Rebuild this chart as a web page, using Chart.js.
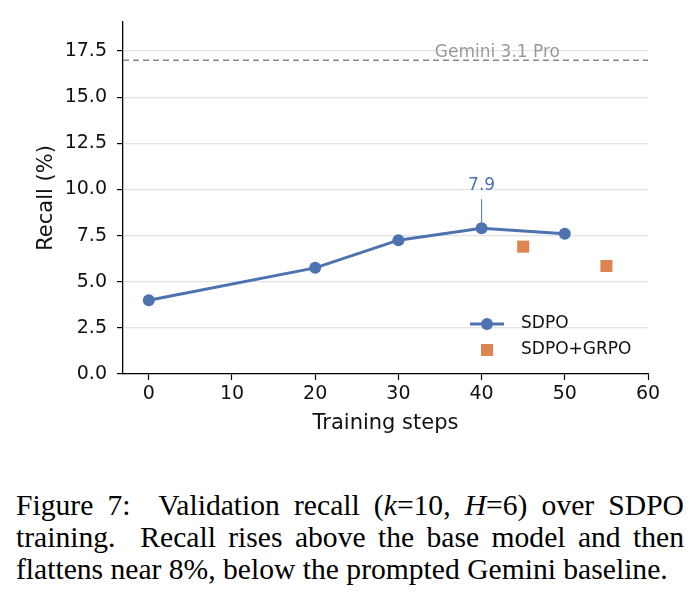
<!DOCTYPE html>
<html>
<head>
<meta charset="utf-8">
<script src="https://cdn.jsdelivr.net/npm/chart.js@4.4.1/dist/chart.umd.min.js"></script>
<style>
  html, body { margin: 0; padding: 0; background: #fff; }
  #wrap { position: relative; width: 698px; height: 450px; }
  #caption {
    font-family: "Liberation Serif", "DejaVu Serif", serif;
    font-size: 29.6px;
    line-height: 32px;
    text-align: justify;
    margin: 39px 14px 0 16px;
    color: #000;
  }
</style>
</head>
<body>
<div id="wrap"><canvas id="recallChart"></canvas></div>
<div id="caption">Figure 7:&nbsp; Validation recall (<i>k</i>=10, <i>H</i>=6) over SDPO training.&nbsp; Recall rises above the base model and then flattens near 8%, below the prompted Gemini baseline.</div>
<script>
// 数据
const sdpoSteps = [0, 20, 30, 40, 50];
const sdpoRecall = [4.0, 5.75, 7.25, 7.9, 7.6];
const grpoSteps = [45, 55];
const grpoRecall = [6.9, 5.85];
const geminiRecall = 17.0;
const geminiLabel = 'Gemini 3.1 Pro';
const peakLabel = '7.9';
const xTicks = [0, 10, 20, 30, 40, 50, 60];
const yTicks = [0, 2.5, 5, 7.5, 10, 12.5, 15, 17.5];

const BLUE = '#4c72b0';
const ORANGE = '#dd8452';
const FONT = "'DejaVu Sans', sans-serif";

// 图内图例 + 标注
const overlayPlugin = {
    id: 'overlay',
    afterDatasetsDraw(chart) {
        const { ctx, scales: { x, y } } = chart;
        ctx.save();

        // Gemini 标签
        ctx.font = `17px ${FONT}`;
        ctx.fillStyle = '#999999';
        ctx.textAlign = 'center';
        ctx.textBaseline = 'alphabetic';
        ctx.fillText(geminiLabel, x.getPixelForValue(41.9), y.getPixelForValue(geminiRecall) - 3);

        // 峰值标注
        const px = x.getPixelForValue(sdpoSteps[3]);
        const py = y.getPixelForValue(sdpoRecall[3]);
        ctx.strokeStyle = BLUE;
        ctx.lineWidth = 1;
        ctx.beginPath();
        ctx.moveTo(px, py - 4);
        ctx.lineTo(px, py - 29);
        ctx.stroke();
        ctx.font = `17px ${FONT}`;
        ctx.fillStyle = BLUE;
        ctx.fillText(peakLabel, px, py - 38);

        // 图例
        const ds = chart.data.datasets;
        const lx = chart.chartArea.right - 178;
        const ly1 = chart.chartArea.bottom - 50;
        const ly2 = chart.chartArea.bottom - 24;
        ctx.strokeStyle = BLUE;
        ctx.lineWidth = 3;
        ctx.beginPath();
        ctx.moveTo(lx, ly1);
        ctx.lineTo(lx + 34, ly1);
        ctx.stroke();
        ctx.fillStyle = BLUE;
        ctx.beginPath();
        ctx.arc(lx + 17, ly1, 6, 0, Math.PI * 2);
        ctx.fill();
        ctx.fillStyle = ORANGE;
        ctx.fillRect(lx + 11, ly2 - 6, 12, 12);
        ctx.font = `17px ${FONT}`;
        ctx.fillStyle = '#111';
        ctx.textAlign = 'left';
        ctx.textBaseline = 'middle';
        ctx.fillText(ds[1].label, lx + 51, ly1);
        ctx.fillText(ds[2].label, lx + 51, ly2);
        ctx.restore();
    }
};

const ctx = document.getElementById('recallChart').getContext('2d');
new Chart(ctx, {
    type: 'scatter',
    data: {
        datasets: [
            {
                label: geminiLabel,
                data: [{ x: -3.1, y: geminiRecall }, { x: 60, y: geminiRecall }],
                showLine: true,
                borderColor: '#888888',
                borderWidth: 1.5,
                borderDash: [6, 4],
                pointRadius: 0
            },
            {
                label: 'SDPO',
                data: sdpoSteps.map((s, i) => ({ x: s, y: sdpoRecall[i] })),
                showLine: true,
                borderColor: BLUE,
                backgroundColor: BLUE,
                borderWidth: 3,
                pointRadius: 6,
                pointBorderWidth: 0
            },
            {
                label: 'SDPO+GRPO',
                data: grpoSteps.map((s, i) => ({ x: s, y: grpoRecall[i] })),
                backgroundColor: ORANGE,
                borderColor: ORANGE,
                pointStyle: 'rect',
                pointRadius: 8.5,
                pointBorderWidth: 0
            }
        ]
    },
    options: {
        responsive: true,
        maintainAspectRatio: false,
        animation: false,
        layout: { padding: { left: 0, right: 50, top: 22, bottom: 0 } },
        plugins: {
            legend: { display: false },
            tooltip: { enabled: false }
        },
        scales: {
            x: {
                type: 'linear',
                min: -3.1,
                max: 60,
                afterFit: (s) => { s.height = 76; },
                afterBuildTicks: (s) => { s.ticks = xTicks.map(v => ({ value: v })); },
                grid: { drawOnChartArea: false, drawTicks: true, tickLength: 6, tickColor: '#000', tickWidth: 1.2 },
                border: { color: '#000', width: 1.3 },
                ticks: { color: '#111', font: { family: FONT, size: 19 }, padding: 3, maxRotation: 0 },
                title: { display: true, text: 'Training steps', color: '#111', font: { family: FONT, size: 21 }, padding: { top: 0, bottom: 14 } }
            },
            y: {
                min: 0,
                max: 19.07,
                afterFit: (s) => { s.width = 123; },
                afterBuildTicks: (s) => { s.ticks = yTicks.map(v => ({ value: v })); },
                grid: { color: '#e2e2e2', lineWidth: 1.2, tickLength: 6, tickColor: '#000', tickWidth: 1.2 },
                border: { color: '#000', width: 1.3 },
                ticks: { color: '#111', font: { family: FONT, size: 19 }, padding: 10, callback: (v) => v.toFixed(1) },
                title: { display: true, text: 'Recall (%)', color: '#111', font: { family: FONT, size: 21 }, padding: { top: 34, bottom: 34 } }
            }
        }
    },
    plugins: [overlayPlugin]
});
</script>
</body>
</html>
